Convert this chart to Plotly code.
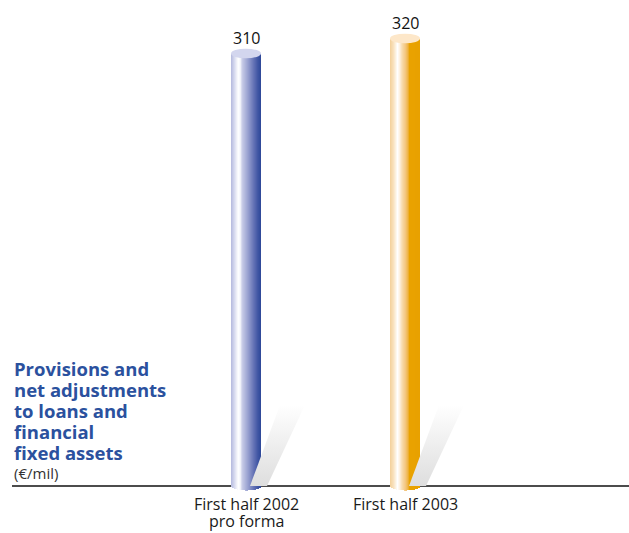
import numpy as np
import plotly.graph_objects as go

# ---------------- data ----------------
categories = ["First half 2002<br>pro forma", "First half 2003"]
values = [310, 320]
value_labels = ["310", "320"]
title_lines = ["Provisions and", "net adjustments", "to loans and", "financial", "fixed assets"]
unit_label = "(€/mil)"

# ---------------- layout constants ----------------
W, H = 629, 533
X0_PX, X_STEP_PX = 246, 159          # pixel of category 0, pixels per category
Y_A, Y_B = 518.5, 1.5                 # px = Y_A - Y_B * value
AXIS_BASE = (Y_A - 486) / Y_B         # value at which the baseline is drawn
PX_X = 1 / X_STEP_PX
PX_Y = 1 / Y_B
BAR_W = 30 * PX_X
N_STRIPS = 30
CAP_H = 4.8 * PX_Y
BOTTOM_H = 4.5 * PX_Y

xpos = list(range(len(values)))

blue_stops = [(0.00, "#b4b9de"), (0.12, "#d8dbef"), (0.24, "#ffffff"), (0.31, "#f4f5fb"),
              (0.37, "#c9cde8"), (0.55, "#9ca4d2"), (0.75, "#6674b6"), (0.90, "#3f55a3"),
              (1.00, "#2d4898")]
orange_stops = [(0.00, "#f3d09a"), (0.12, "#f9e2bf"), (0.25, "#ffffff"), (0.32, "#fdf1e2"),
                (0.40, "#f8dcaf"), (0.52, "#f3c57c"), (0.60, "#eeb344"), (0.65, "#e9a200"),
                (1.00, "#e8a100")]
cap_colors = ["#d3d6ee", "#fde7c9"]


def hex2rgb(h):
    h = h.lstrip("#")
    return np.array([int(h[i:i + 2], 16) for i in (0, 2, 4)], dtype=float)


def grad(stops, u):
    for (u0, c0), (u1, c1) in zip(stops[:-1], stops[1:]):
        if u0 <= u <= u1:
            t = 0 if u1 == u0 else (u - u0) / (u1 - u0)
            c = hex2rgb(c0) * (1 - t) + hex2rgb(c1) * t
            return "rgb(%d,%d,%d)" % tuple(np.round(c))
    return stops[-1][1]


fig = go.Figure()

# shadows
shadow_px = [(4, 0), (21, 0), (59, -81), (34, -81)]
for i, v in zip(xpos, values):
    sx = [i + dx * PX_X for dx, dy in shadow_px] + [i + shadow_px[0][0] * PX_X]
    sy = [AXIS_BASE - dy * PX_Y for dx, dy in shadow_px] + [AXIS_BASE]
    fig.add_trace(go.Scatter(
        x=sx, y=sy, mode="lines", fill="toself", line=dict(width=0),
        fillgradient=dict(type="vertical",
                          colorscale=[[0, "rgb(222,222,222)"], [0.5, "rgb(238,238,238)"],
                                      [1, "rgb(255,255,255)"]]),
        hoverinfo="skip", showlegend=False))

# cylinder bodies as vertical gradient strips
sw = BAR_W / N_STRIPS
for k in range(N_STRIPS):
    u = (k + 0.5) / N_STRIPS
    base_k = AXIS_BASE - BOTTOM_H * np.sqrt(max(0.0, 1 - (2 * u - 1) ** 2))
    wk = sw * 1.6 if k < N_STRIPS - 1 else sw
    fig.add_trace(go.Bar(
        x=xpos, y=[v - base_k for v in values], base=base_k,
        width=wk, offset=-BAR_W / 2 + k * sw,
        marker=dict(color=[grad(blue_stops, u), grad(orange_stops, u)], line=dict(width=0)),
        hoverinfo="skip", showlegend=False))

shapes = [dict(type="line", xref="paper", yref="y", x0=12 / W, x1=1,
               y0=AXIS_BASE, y1=AXIS_BASE, line=dict(color="#111111", width=1.3), layer="below")]
for i, v in zip(xpos, values):
    shapes.append(dict(type="circle", xref="x", yref="y",
                       x0=i - BAR_W / 2, x1=i + BAR_W / 2, y0=v - CAP_H, y1=v + CAP_H,
                       fillcolor=cap_colors[i], line=dict(width=0), layer="above"))

annotations = []
for i, v, lab in zip(xpos, values, value_labels):
    annotations.append(dict(x=i, y=v, xref="x", yref="y", text=lab, showarrow=False,
                            yshift=16, yanchor="middle",
                            font=dict(family="Open Sans", size=16, color="#111111")))
for i, c in zip(xpos, categories):
    for j, part in enumerate(c.split("<br>")):
        cy = 504 + 17 * j
        annotations.append(dict(x=i, y=1 - cy / H, xref="x", yref="paper", text=part,
                                showarrow=False, yanchor="middle",
                                font=dict(family="Open Sans", size=16, color="#1a1a1a")))
for j, line in enumerate(title_lines):
    cy = 368 + 21 * j
    annotations.append(dict(x=12 / W, y=1 - cy / H, xref="paper", yref="paper", text="<b>%s</b>" % line,
                            showarrow=False, xanchor="left", yanchor="middle",
                            font=dict(family="Open Sans", size=18.5, color="#2b519e")))
annotations.append(dict(x=12 / W, y=1 - 473 / H, xref="paper", yref="paper", text=unit_label,
                        showarrow=False, xanchor="left", yanchor="middle",
                        font=dict(family="Open Sans", size=15, color="#333333")))

fig.update_layout(
    width=W, height=H, margin=dict(l=0, r=0, t=0, b=0),
    paper_bgcolor="white", plot_bgcolor="white",
    barmode="overlay", bargap=0,
    xaxis=dict(visible=False, range=[-X0_PX * PX_X, (W - X0_PX) * PX_X], fixedrange=True),
    yaxis=dict(visible=False, range=[(Y_A - H) / Y_B, Y_A / Y_B], fixedrange=True),
    shapes=shapes, annotations=annotations, showlegend=False,
)

fig.write_html("out.html")
